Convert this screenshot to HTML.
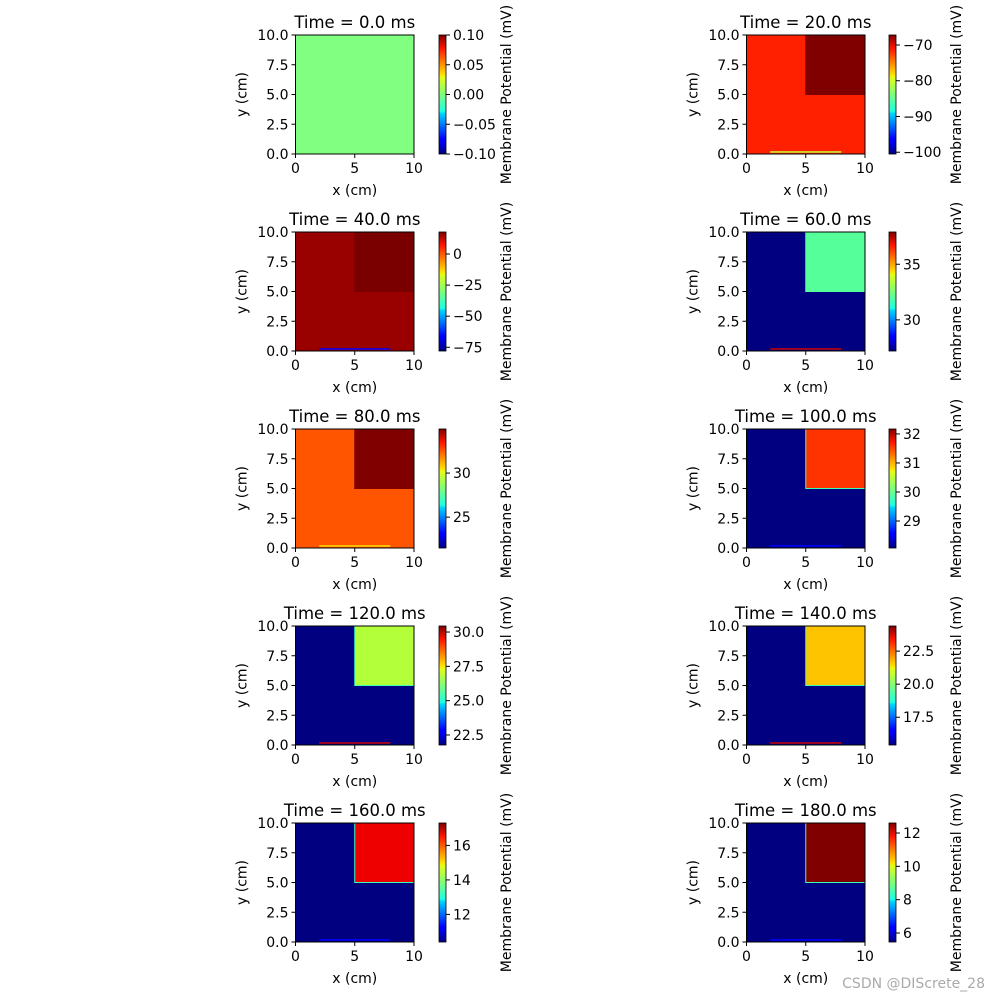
<!DOCTYPE html>
<html><head><meta charset="utf-8">
<style>
body{margin:0;background:#fff;}
svg{display:block;font-family:"DejaVu Sans","Liberation Sans",sans-serif;}
</style></head>
<body>
<svg id="fig" width="1000" height="1000" viewBox="0 0 1000 1000">
<defs>
<linearGradient id="jet" x1="0" y1="1" x2="0" y2="0">
<stop offset="0" stop-color="#00007f"/><stop offset="0.11" stop-color="#0000ff"/>
<stop offset="0.125" stop-color="#0000ff"/><stop offset="0.34" stop-color="#00d4ff"/>
<stop offset="0.36" stop-color="#1fffe0"/><stop offset="0.5" stop-color="#7dff7a"/>
<stop offset="0.64" stop-color="#e0ff17"/><stop offset="0.66" stop-color="#ffe600"/>
<stop offset="0.89" stop-color="#ff1300"/><stop offset="1" stop-color="#7f0000"/>
</linearGradient>
</defs>
<text x="985" y="988" text-anchor="end" font-size="14" fill="#aaa">CSDN @DIScrete_28</text>
</svg>
<script>
const titles=["Time = 0.0 ms","Time = 20.0 ms","Time = 40.0 ms","Time = 60.0 ms","Time = 80.0 ms","Time = 100.0 ms","Time = 120.0 ms","Time = 140.0 ms","Time = 160.0 ms","Time = 180.0 ms"];
const mainColors=["#80ff80","#ff2000","#990000","#000080","#ff5500","#000080","#000080","#000080","#000080","#000080"];
const cornerColors=["#80ff80","#800000","#7a0000","#55ff99","#800000","#ff3300","#b3ff3a","#ffc400","#ee0000","#800000"];
const stripColors=["#80ff80","#c8ff30","#0000ff","#cc0000","#ffdd00","#0000ff","#cc0000","#cc0000","#0000ff","#0000ff"];
const edgeColors=["#80ff80","#800000","#7a0000","#55ff99","#800000","#40ffb0","#40ffb0","#40ffb0","#40ffb0","#40ffb0"];
const cbMin=[-0.1,-100.5,-78,27.2,21.5,28.07,21.77,15.4,10.4,5.46];
const cbMax=[0.1,-67.2,17.7,37.9,35,32.17,30.44,24.4,17.3,12.6];
const cbTicks=[[-0.1,-0.05,0,0.05,0.1],[-100,-90,-80,-70],[-75,-50,-25,0],[30,35],[25,30],[29,30,31,32],[22.5,25,27.5,30],[17.5,20,22.5],[12,14,16],[6,8,10,12]];
const cbLabels=[["\u22120.10","\u22120.05","0.00","0.05","0.10"],["\u2212100","\u221290","\u221280","\u221270"],["\u221275","\u221250","\u221225","0"],["30","35"],["25","30"],["29","30","31","32"],["22.5","25.0","27.5","30.0"],["17.5","20.0","22.5"],["12","14","16"],["6","8","10","12"]];
const axTicks=[0,5,10];
const ayTicks=[0,2.5,5,7.5,10];
const ayLabels=["0.0","2.5","5.0","7.5","10.0"];
const cornerRegion=[5,10,5,10];
const stripRegion=[2,8,0,0.15];

const NS="http://www.w3.org/2000/svg";
const svg=document.getElementById('fig');
function el(tag,attrs,parent,text){const e=document.createElementNS(NS,tag);for(const k in attrs)e.setAttribute(k,attrs[k]);if(text!==undefined)e.textContent=text;(parent||svg).appendChild(e);return e;}

for(let i=0;i<10;i++){
  const col=i%2,row=Math.floor(i/2);
  const L=col?746.5:295.5,R=L+118.5,T=35+row*197,B=T+119;
  const sx=v=>L+(v/10)*(R-L), sy=v=>B-(v/10)*(B-T);
  const g=el('g',{});
  
  
  const t=el('text',{x:(L+R)/2,y:T-7,'text-anchor':'middle','font-size':16.5},g,titles[i]);
  
  
  const bg=el('rect',{x:L,y:T,width:R-L,height:B-T,fill:mainColors[i]},g);
  
  
  const c=cornerRegion;
  const cr=el('rect',{x:sx(c[0]),y:sy(c[3]),width:sx(c[1])-sx(c[0]),height:sy(c[2])-sy(c[3]),fill:cornerColors[i],stroke:edgeColors[i],'stroke-width':1},g);
  
  
  const s=stripRegion;
  const st=el('rect',{x:sx(s[0]),y:sy(s[3])-1,width:sx(s[1])-sx(s[0]),height:1.5,fill:stripColors[i]},g);
  
  
  el('rect',{x:L,y:T,width:R-L,height:B-T,fill:'none',stroke:'#000','stroke-width':1},g);
  axTicks.forEach(v=>{
    el('line',{x1:sx(v),x2:sx(v),y1:B,y2:B+4,stroke:'#000'},g);
    const tl=el('text',{x:sx(v),y:B+19,'text-anchor':'middle','font-size':14},g,String(v));
    
    
  });
  ayTicks.forEach((v,j)=>{
    el('line',{x1:L-4,x2:L,y1:sy(v),y2:sy(v),stroke:'#000'},g);
    const tl=el('text',{x:L-7,y:sy(v)+5,'text-anchor':'end','font-size':14},g,ayLabels[j]);
    
    
  });
  const xl=el('text',{x:(L+R)/2,y:B+41,'text-anchor':'middle','font-size':14},g,'x (cm)');
  
  
  const yl=el('text',{x:0,y:0,'text-anchor':'middle','font-size':14,transform:`translate(${L-49},${(T+B)/2}) rotate(-90)`},g,'y (cm)');
  
  
  const CL=col?889:439,CW=7;
  const cb=el('rect',{x:CL,y:T,width:CW,height:B-T,fill:'url(#jet)',stroke:'#000','stroke-width':0.8},g);
  
  
  const cy=v=>B-(v-cbMin[i])/(cbMax[i]-cbMin[i])*(B-T);
  cbTicks[i].forEach((v,j)=>{
    el('line',{x1:CL+CW,x2:CL+CW+4,y1:cy(v),y2:cy(v),stroke:'#000'},g);
    const tl=el('text',{x:CL+CW+7,y:cy(v)+5,'font-size':14},g,cbLabels[i][j]);
    
    
  });
  const cl=el('text',{x:0,y:0,'text-anchor':'middle','font-size':14,transform:`translate(${CL+72},${(T+B)/2}) rotate(-90)`},g,'Membrane Potential (mV)');
  
  
}
</script>
</body></html>
